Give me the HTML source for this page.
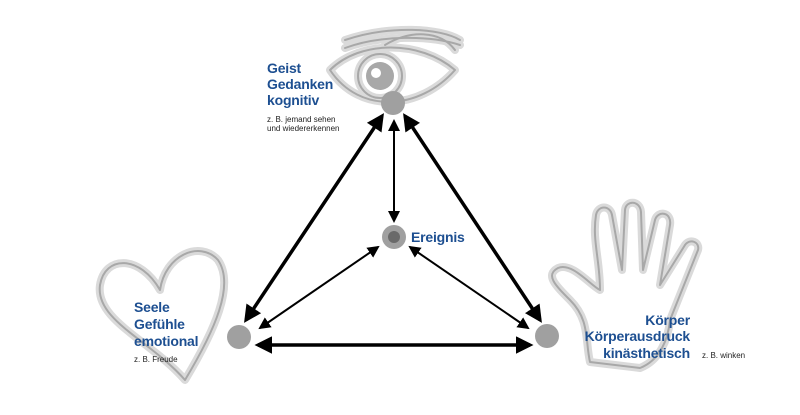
<!DOCTYPE html>
<html><head><meta charset="utf-8"><style>
body{margin:0;background:#fff;width:800px;height:415px;overflow:hidden}
svg{display:block}
.b{font-family:"Liberation Sans",sans-serif;font-weight:bold;font-size:14px;fill:#1d4f91;letter-spacing:-0.2px}
.s{font-family:"Liberation Sans",sans-serif;font-size:8px;fill:#222}
.o1{fill:none;stroke:#dadada;stroke-width:8;stroke-linejoin:round;stroke-linecap:round}
.o2{fill:none;stroke:#a8a8a8;stroke-width:2;stroke-linejoin:round;stroke-linecap:round}
</style></head><body>
<svg width="800" height="415" viewBox="0 0 800 415">
<defs>
<marker id="a" markerWidth="5" markerHeight="5" refX="4" refY="2.5" orient="auto-start-reverse" markerUnits="strokeWidth"><path d="M0,0 L5,2.5 L0,5 z" fill="#000"/></marker>
<marker id="t" markerWidth="6" markerHeight="6" refX="5" refY="3" orient="auto-start-reverse" markerUnits="strokeWidth"><path d="M0,0 L6,3 L0,6 z" fill="#000"/></marker>
<g id="eye">
<path d="M330,70 C360,40 420,40 455,70 C420,110 360,115 330,70 Z"/>
<path d="M345,48 C380,35 430,35 460,45"/>
<path d="M345,40 C390,25 440,28 460,40"/>
<path d="M385,45 C410,30 440,30 455,50"/>
<circle cx="380" cy="76" r="22"/>
</g>
<g id="heart"><path d="M185,380 C150,340 95,320 100,285 C105,255 140,255 160,290 C165,255 200,240 218,260 C235,285 215,330 185,380 Z"/></g>
<g id="hand"><path d="M590,362 C585,340 590,320 570,300 C555,285 545,275 558,268 C572,262 590,285 600,290 C600,260 592,240 596,215 C598,205 610,205 612,215 L622,270 L625,210 C626,200 640,200 641,212 L643,270 L655,220 C658,210 672,212 670,225 L660,285 L685,245 C690,238 700,242 698,250 L670,320 C668,340 660,360 640,368 Z"/></g>
</defs>
<g class="o1"><use href="#eye"/><use href="#heart"/><use href="#hand"/></g>
<g class="o2"><use href="#eye"/><use href="#heart"/><use href="#hand"/></g>
<circle cx="380" cy="76" r="14" fill="#a8a8a8"/>
<circle cx="376" cy="73" r="5" fill="#fff"/>
<g stroke="#000" fill="none">
<line x1="382" y1="116" x2="246" y2="320" stroke-width="3.5" marker-start="url(#a)" marker-end="url(#a)"/>
<line x1="405" y1="116" x2="540" y2="320" stroke-width="3.5" marker-start="url(#a)" marker-end="url(#a)"/>
<line x1="258" y1="345" x2="530" y2="345" stroke-width="3.5" marker-start="url(#a)" marker-end="url(#a)"/>
<line x1="394" y1="121" x2="394" y2="221" stroke-width="2" marker-start="url(#t)" marker-end="url(#t)"/>
<line x1="378" y1="247" x2="260" y2="328" stroke-width="2" marker-start="url(#t)" marker-end="url(#t)"/>
<line x1="410" y1="247" x2="528" y2="328" stroke-width="2" marker-start="url(#t)" marker-end="url(#t)"/>
</g>
<circle cx="393" cy="103" r="12" fill="#a0a0a0"/>
<circle cx="394" cy="237" r="12" fill="#a0a0a0"/>
<circle cx="394" cy="237" r="6" fill="#6a6a6a"/>
<circle cx="239" cy="337" r="12" fill="#a0a0a0"/>
<circle cx="547" cy="336" r="12" fill="#a0a0a0"/>
<text class="b" x="267" y="73">Geist</text>
<text class="b" x="267" y="89">Gedanken</text>
<text class="b" x="267" y="105">kognitiv</text>
<text class="s" x="267" y="122">z. B. jemand sehen</text>
<text class="s" x="267" y="131">und wiedererkennen</text>
<text class="b" x="411" y="242">Ereignis</text>
<text class="b" x="134" y="312">Seele</text>
<text class="b" x="134" y="329">Gefühle</text>
<text class="b" x="134" y="346">emotional</text>
<text class="s" x="134" y="362">z. B. Freude</text>
<text class="b" x="690" y="325" text-anchor="end">Körper</text>
<text class="b" x="690" y="341" text-anchor="end">Körperausdruck</text>
<text class="b" x="690" y="358" text-anchor="end">kinästhetisch</text>
<text class="s" x="702" y="358">z. B. winken</text>
</svg>
</body></html>
